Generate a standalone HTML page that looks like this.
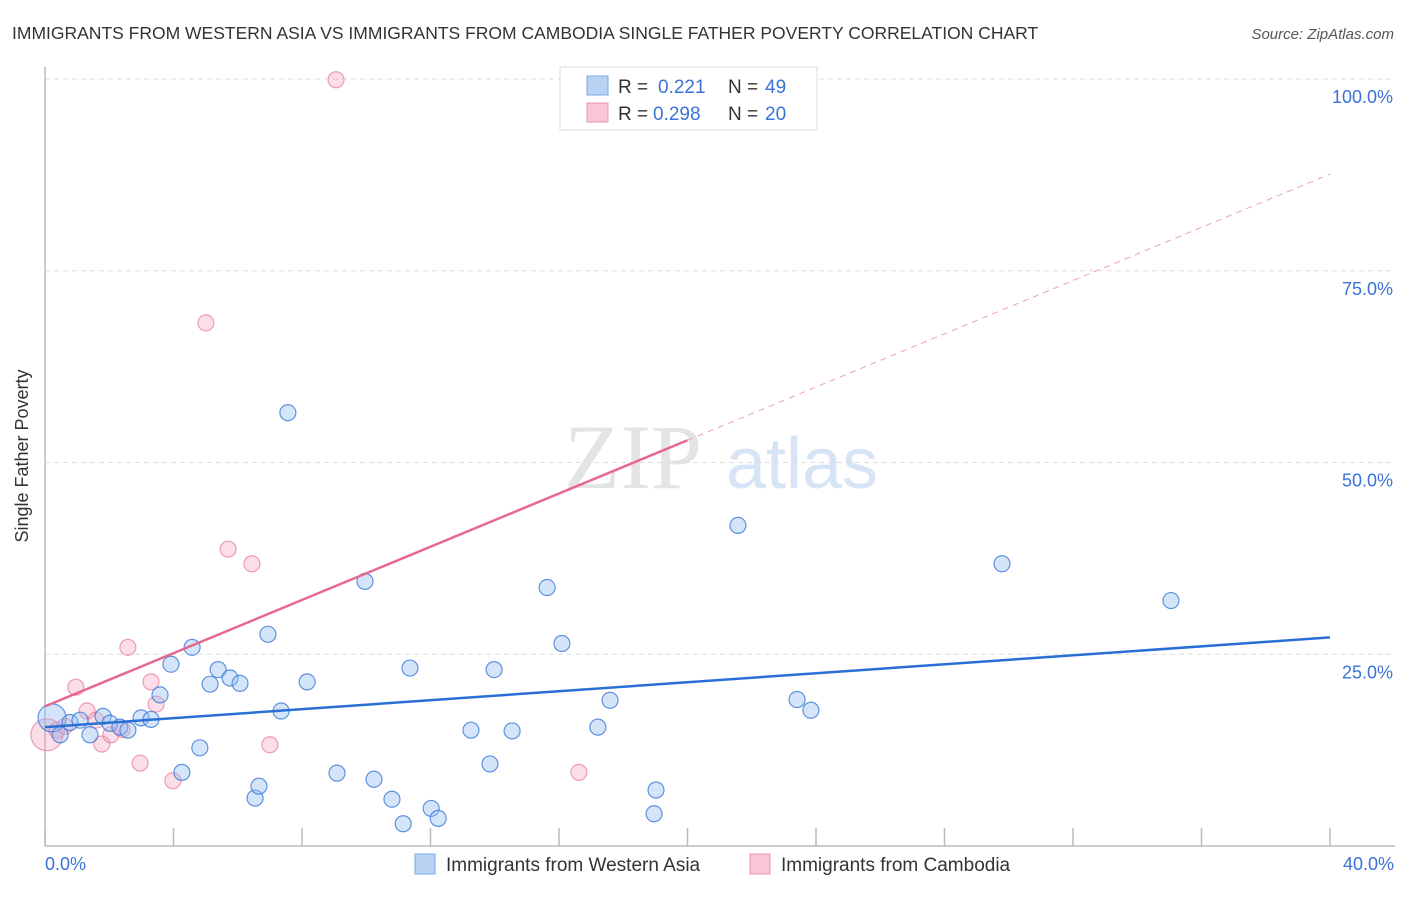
<!DOCTYPE html>
<html><head><meta charset="utf-8"><style>
body{margin:0;background:#fff;font-family:"Liberation Sans",sans-serif;}
svg text{font-family:"Liberation Sans",sans-serif;}
</style></head><body>
<svg id="chart" width="1406" height="892" xmlns="http://www.w3.org/2000/svg">
<text x="12" y="39" font-size="17.5" fill="#333">IMMIGRANTS FROM WESTERN ASIA VS IMMIGRANTS FROM CAMBODIA SINGLE FATHER POVERTY CORRELATION CHART</text>
<text x="1394" y="39" font-size="15" fill="#555" font-style="italic" text-anchor="end">Source: ZipAtlas.com</text>
<g>
<text x="633" y="488" font-size="92" fill="#e4e4e4" text-anchor="middle" font-family="Liberation Serif" style="font-family:'Liberation Serif',serif">ZIP</text>
<text x="802" y="488" font-size="72" fill="#d6e4f5" text-anchor="middle">atlas</text>
</g>
<g id="grid"></g>
<g id="axes"></g>
<g id="marks"></g>
<text x="28" y="456" font-size="18" fill="#333" text-anchor="middle" transform="rotate(-90 28 456)">Single Father Poverty</text>
<text x="45" y="870" font-size="18" fill="#3a72d8">0.0%</text>
<text x="1394" y="870" font-size="18" fill="#3a72d8" text-anchor="end">40.0%</text>
<g>
<rect x="560" y="67" width="257" height="63" fill="#fff" stroke="#ddd"/>
<rect x="587" y="76" width="21" height="19" fill="#b9d3f5" stroke="#7aa7e6"/>
<rect x="587" y="103" width="21" height="19" fill="#f9c6d5" stroke="#ec93ae"/>
<text x="618" y="93" font-size="19" fill="#333">R = </text><text x="658" y="93" font-size="19" fill="#3a72d8">0.221</text>
<text x="728" y="93" font-size="19" fill="#333">N = </text><text x="765" y="93" font-size="19" fill="#3a72d8">49</text>
<text x="618" y="120" font-size="19" fill="#333">R = </text><text x="653" y="120" font-size="19" fill="#3a72d8">0.298</text>
<text x="728" y="120" font-size="19" fill="#333">N = </text><text x="765" y="120" font-size="19" fill="#3a72d8">20</text>
</g>
<g>
<rect x="415" y="854" width="20" height="20" fill="#b9d3f5" stroke="#7aa7e6"/>
<text x="446" y="871" font-size="19" fill="#333">Immigrants from Western Asia</text>
<rect x="750" y="854" width="20" height="20" fill="#f9c6d5" stroke="#ec93ae"/>
<text x="781" y="871" font-size="19" fill="#333">Immigrants from Cambodia</text>
</g>
</svg>
<script>
const yTicks=[25,50,75,100];
const yTickLabels=["25.0%","50.0%","75.0%","100.0%"];
const xTicks=[0,4,8,12,16,20,24,28,32,36,40];
const blueX=[0.22,0.47,0.78,1.09,1.40,1.81,2.02,2.33,2.58,2.99,3.30,3.58,3.92,4.26,4.58,4.82,5.14,5.39,5.76,6.07,6.54,6.66,6.94,7.35,7.56,8.16,9.09,9.96,10.24,10.80,11.15,11.36,12.02,12.24,13.26,13.85,13.98,14.54,15.63,16.09,17.21,17.59,18.96,19.02,21.57,23.41,23.84,29.79,35.05];
const blueY=[16.7,14.5,16.1,16.4,14.5,16.9,16.0,15.5,15.1,16.7,16.5,19.7,23.7,9.6,25.9,12.8,21.1,23.0,21.9,21.2,6.25,7.8,27.6,17.6,56.5,21.4,9.5,34.5,8.7,6.1,2.9,23.2,4.9,3.6,15.1,10.7,23.0,15.0,33.7,26.4,15.5,19.0,4.2,7.3,41.8,19.1,17.7,36.8,32.0];
const pinkX=[0.06,0.37,0.62,0.96,1.31,1.59,1.77,2.05,2.40,2.58,2.96,3.30,3.46,3.98,5.01,5.70,6.44,7.00,9.06,16.62];
const pinkY=[14.5,15.1,15.6,20.7,17.6,16.4,13.3,14.5,15.2,25.9,10.8,21.4,18.5,8.5,68.2,38.7,36.8,13.2,99.9,9.6];
const blueTrend=[15.5,27.2];   // value at x=0, x=40
const pinkTrend=[18.2,87.6];   // value at x=0, x=40
const pinkSolidEnd=20;
const NS="http://www.w3.org/2000/svg";
const X0=45,X1=1330,Y0=846,Y100=79;
const xs=v=>X0+(v/40)*(X1-X0);
const ys=v=>Y0-(v/100)*(Y0-Y100);
function mk(tag,attrs,parent){const e=document.createElementNS(NS,tag);for(const k in attrs)e.setAttribute(k,attrs[k]);parent.appendChild(e);return e;}
const grid=document.getElementById('grid'),axes=document.getElementById('axes'),marks=document.getElementById('marks');
yTicks.forEach((t,i)=>{
 const l=mk('line',{x1:X0,x2:1395,y1:ys(t),y2:ys(t),stroke:'#ddd','stroke-dasharray':'5,4'},grid);
 
 
 const tx=mk('text',{x:1393,y:ys(t)+24,'font-size':18,fill:'#3a72d8','text-anchor':'end'},grid);
 tx.textContent=yTickLabels[i];
 
 
});
const ya=mk('line',{x1:X0,x2:X0,y1:67,y2:Y0,stroke:'#bbb','stroke-width':1.5},axes);


const xa=mk('line',{x1:X0,x2:1395,y1:Y0,y2:Y0,stroke:'#bbb','stroke-width':1.5},axes);


xTicks.forEach(t=>{
 const l=mk('line',{x1:xs(t),x2:xs(t),y1:828,y2:Y0,stroke:'#bbb','stroke-width':1.5},axes);
 
 
});
function pt(x,y,r,fill,stroke,name){
 const c=mk('circle',{cx:xs(x),cy:ys(y),r:r,fill:fill,stroke:stroke,'stroke-width':1.2},marks);
 
 
}
pinkX.forEach((x,i)=>pt(x,pinkY[i],i===0?16:8,'rgba(244,160,186,0.35)','rgba(230,120,155,0.7)','point-cambodia'));
blueX.forEach((x,i)=>pt(x,blueY[i],i===0?14:8,'rgba(150,190,240,0.4)','rgba(60,120,215,0.8)','point-western-asia'));
const bl=mk('line',{x1:xs(0),y1:ys(blueTrend[0]),x2:xs(40),y2:ys(blueTrend[1]),stroke:'#2a6fd6','stroke-width':2.5},marks);


const pAt=x=>pinkTrend[0]+(pinkTrend[1]-pinkTrend[0])*x/40;
const pl=mk('line',{x1:xs(0),y1:ys(pAt(0)),x2:xs(pinkSolidEnd),y2:ys(pAt(pinkSolidEnd)),stroke:'#e8678f','stroke-width':2.5},marks);


const pd=mk('line',{x1:xs(pinkSolidEnd),y1:ys(pAt(pinkSolidEnd)),x2:xs(40),y2:ys(pAt(40)),stroke:'#eaa0b6','stroke-width':1,'stroke-dasharray':'6,5'},marks);


</script>
</body></html>
